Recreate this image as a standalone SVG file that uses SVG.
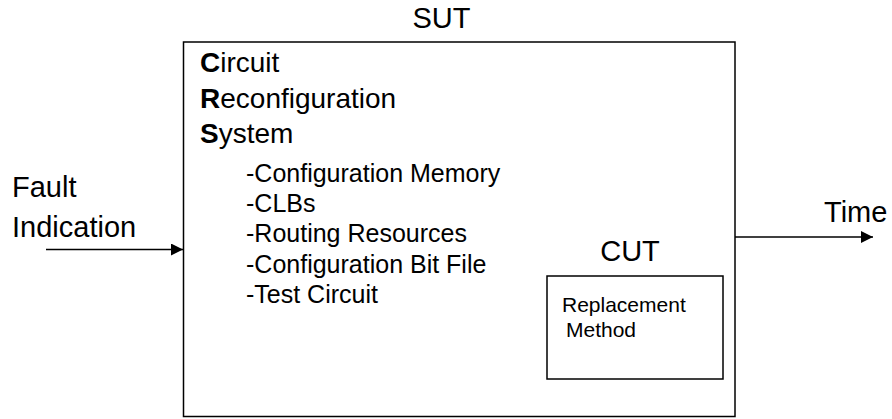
<svg xmlns="http://www.w3.org/2000/svg" width="892" height="419" viewBox="0 0 892 419">
<style>
text{font-family:"Liberation Sans",Arial,sans-serif;fill:#000}
.t{font-size:29px}
.c{font-size:28px}
.s{font-size:25px}
.r{font-size:21px}
.box{fill:#fff;stroke:#000;stroke-width:1.5}
.ln{stroke:#000;stroke-width:1.5;fill:none}
</style>
<defs>
<marker id="ah" markerWidth="12" markerHeight="12" refX="12" refY="6" orient="auto" markerUnits="userSpaceOnUse">
<path d="M0,0 L12,6 L0,12 Z" fill="#000"/>
</marker>
</defs>
<rect width="892" height="419" fill="#fff"/>
<g id="sut">
<rect class="box" x="183.5" y="42" width="551.5" height="374.5"/>
<text class="t" x="441.5" y="27.5" text-anchor="middle">SUT</text>
<text class="c" x="200" y="72"><tspan font-weight="bold">C</tspan>ircuit</text>
<text class="c" x="200" y="107.5"><tspan font-weight="bold">R</tspan>econfiguration</text>
<text class="c" x="200" y="142.5"><tspan font-weight="bold">S</tspan>ystem</text>
<text class="s" x="246" y="181.5">-Configuration Memory</text>
<text class="s" x="246" y="211.5">-CLBs</text>
<text class="s" x="246" y="241.5">-Routing Resources</text>
<text class="s" x="246" y="272.5">-Configuration Bit File</text>
<text class="s" x="246" y="303">-Test Circuit</text>
</g>
<g id="cut">
<text class="t" x="630" y="260.5" text-anchor="middle">CUT</text>
<rect class="box" x="547" y="276" width="176" height="103"/>
<text class="r" x="562" y="311.5">Replacement</text>
<text class="r" x="566" y="337">Method</text>
</g>
<g id="fault">
<text class="t" x="12" y="197">Fault</text>
<text class="t" x="12" y="237">Indication</text>
</g>
<g id="time">
<text class="t" x="824" y="221.5">Time</text>
</g>
<g id="connectors">
<line class="ln" x1="46" y1="249.5" x2="183" y2="249.5" marker-end="url(#ah)"/>
<line class="ln" x1="735" y1="237" x2="873" y2="237" marker-end="url(#ah)"/>
</g>
</svg>
